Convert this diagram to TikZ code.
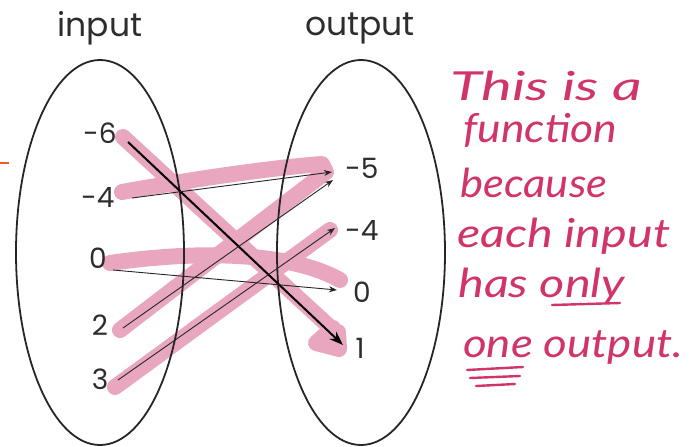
\documentclass[tikz,border=0pt]{standalone}
\usepackage{fontspec}
\usepackage{graphicx}
\setmainfont{Poppins}
\newfontfamily\handfont{Lato}
\usetikzlibrary{arrows.meta}
\definecolor{hl}{RGB}{232,167,190}
\definecolor{ink}{RGB}{208,52,104}
\definecolor{lab}{RGB}{45,45,45}
\definecolor{orng}{RGB}{240,90,40}
\newcommand{\hw}[2]{\resizebox{#1}{\height}{#2}}
\begin{document}
\begin{tikzpicture}[x=1pt,y=-1pt,
  lbl/.style={font=\fontsize{28}{28}\selectfont, text=lab, inner sep=0pt},
  hdr/.style={font=\fontsize{33}{33}\selectfont, text=lab, inner sep=0pt},
  hlstroke/.style={draw=hl, line width=16pt, line cap=round, line join=round},
  thinarr/.style={-{Stealth[length=8pt,width=6pt]}, line width=0.9pt, draw=black!85},
  thickarr/.style={-{Stealth[length=14pt,width=10pt]}, line width=2pt, draw=black},
  oval/.style={draw=black!85, line width=1.8pt},
  note/.style={font=\handfont\itshape\fontsize{40}{40}\selectfont, text=ink, inner sep=0pt, anchor=base west},
  uline/.style={draw=ink, line width=2.4pt, line cap=round}]
\useasboundingbox (0,0) rectangle (699,447);
\fill[white] (0,0) rectangle (699,447);

% highlights
\draw[hlstroke] (123,137) -- (333,330);
\draw[hlstroke] (333,328) -- (316,343) -- (339,349) -- (338,332);
\draw[hlstroke] (122,192) .. controls (200,178) and (270,168) .. (322,164) -- (326,172) -- (120,330);
\draw[hlstroke] (110,263) .. controls (200,250) and (290,252) .. (340,280);
\draw[hlstroke] (115,387) -- (330,230);

% ellipses
\draw[oval] (100,252.5) ellipse [x radius=84, y radius=192.5];
\draw[oval] (361,252.5) ellipse [x radius=84, y radius=192.5];

% headers
\node[hdr] (hin) at (100,28) {input};
\node[hdr] (hout) at (360,28) {output};

% input labels
\node[lbl] (i1) at (100,133) {-6};
\node[lbl] (i2) at (98,197) {-4};
\node[lbl] (i3) at (98,258) {0};
\node[lbl] (i4) at (100,325) {2};
\node[lbl] (i5) at (100,379) {3};

% output labels
\node[lbl] (o1) at (362,168) {-5};
\node[lbl] (o2) at (362,230) {-4};
\node[lbl] (o3) at (362,292) {0};
\node[lbl] (o4) at (360,348) {1};

% arrow ends
\coordinate (s1) at (128,142); \coordinate (e1) at (343,345);
\coordinate (s2) at (132,198); \coordinate (e2) at (332,172);
\coordinate (s3) at (113,270); \coordinate (e3) at (337,290);
\coordinate (s4) at (123,328); \coordinate (e4) at (333,180);
\coordinate (s5) at (118,380); \coordinate (e5) at (335,228);

\draw[thickarr] (s1) -- (e1);
\draw[thinarr] (s2) -- (e2);
\draw[thinarr] (s3) -- (e3);
\draw[thinarr] (s4) -- (e4);
\draw[thinarr] (s5) -- (e5);

% orange mark
\coordinate (m1) at (0,163); \coordinate (m2) at (9,163);
\draw[draw=orng, line width=2.5pt] (m1) -- (m2);

% handwritten note
\node[note] (t1) at (450,100) {\hw{192pt}{This is a}};
\node[note] (t2) at (463,142) {\hw{154pt}{function}};
\node[note] (t3) at (460,197) {\hw{147pt}{because}};
\node[note] (t4) at (457,247) {\hw{213pt}{each input}};
\node[note] (t5) at (458,297) {\hw{167pt}{has only}};
\node[note] (t6) at (463,357) {\hw{220pt}{one output.}};

\coordinate (u1a) at (552,305); \coordinate (u1b) at (620,303);
\draw[uline] (u1a) -- (u1b);
\coordinate (u2a) at (467,370); \coordinate (u2b) at (523,367);
\coordinate (u3a) at (470,378); \coordinate (u3b) at (520,376);
\coordinate (u4a) at (476,386); \coordinate (u4b) at (515,384);
\draw[uline] (u2a) -- (u2b);
\draw[uline] (u3a) -- (u3b);
\draw[uline] (u4a) -- (u4b);
\end{tikzpicture}
\end{document}
